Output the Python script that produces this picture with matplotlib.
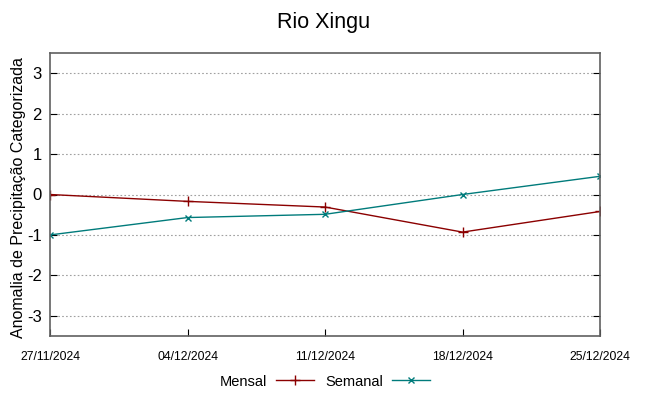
import matplotlib
matplotlib.use('Agg')
import matplotlib.pyplot as plt

dates = ['27/11/2024', '04/12/2024', '11/12/2024', '18/12/2024', '25/12/2024']
mensal = [0.0, -0.17, -0.31, -0.93, -0.42]
semanal = [-1.0, -0.57, -0.49, 0.0, 0.45]
yticks = [-3, -2, -1, 0, 1, 2, 3]

plt.rcParams['font.family'] = ['Liberation Sans', 'DejaVu Sans']

fig = plt.figure(figsize=(6.48, 3.96), dpi=100)
ax = fig.add_axes([50 / 648, 60 / 396, 550 / 648, 283 / 396])

x = list(range(len(dates)))
ax.plot(x, mensal, color='#8b0000', lw=1, marker='+', ms=7, mew=1, label='Mensal')
ax.plot(x, semanal, color='#007b7b', lw=1, marker='x', ms=5, mew=1, label='Semanal')

ax.set_xlim(0, len(dates) - 1)
ax.set_ylim(-3.5, 3.5)
ax.set_yticks(yticks)
ax.set_yticklabels([str(v) for v in yticks], fontsize=12)
ax.set_xticks(x)
ax.set_xticklabels(dates)
ax.tick_params(axis='x', direction='in', length=5, pad=11, labelsize=8.8)
ax.tick_params(axis='y', direction='in', length=5, pad=6)
ax.tick_params(top=False, right=True, which='both')
ax.grid(axis='y', color='#a0a0a0', ls=(0, (1.5, 2)), lw=0.8)
for s in ax.spines.values():
    s.set_color('#606060')
    s.set_linewidth(1.2)

ax.set_ylabel('Anomalia de Precipitação Categorizada', fontsize=11.5)
ax.yaxis.set_label_coords(-0.043, 0.49)
fig.suptitle('Rio Xingu', fontsize=15.5, y=0.97)

ax.legend(loc='upper center', bbox_to_anchor=(0.5, -0.09), ncol=2, frameon=False,
          markerfirst=False, fontsize=10.5, handlelength=2.6, columnspacing=0.8,
          handletextpad=0.6)

fig.savefig('out.png', dpi=100)
